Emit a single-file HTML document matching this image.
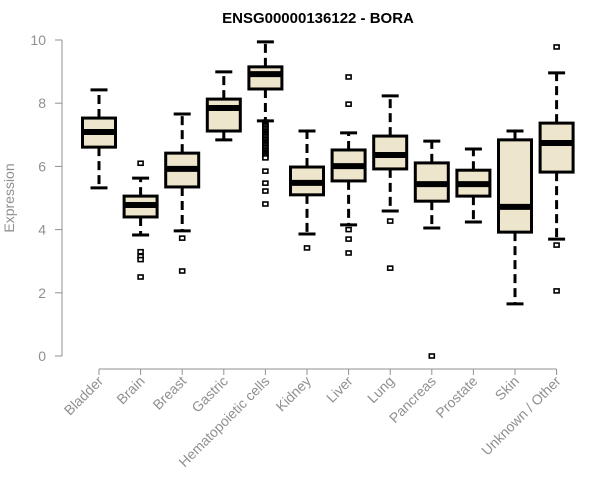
<!DOCTYPE html>
<html><head><meta charset="utf-8"><style>
body{margin:0;background:#fff}
svg{display:block;font-family:"Liberation Sans",sans-serif}
</style></head><body>
<svg id="chart" width="600" height="500" viewBox="0 0 600 500">
<text x="318" y="23" text-anchor="middle" font-weight="bold" font-size="15">ENSG00000136122 - BORA</text>
<text transform="translate(14,198) rotate(-90)" text-anchor="middle" font-size="14" fill="#909090">Expression</text>
<g id="yaxis"></g>
<g id="xaxis"></g>
<g id="boxes"></g>
</svg>
<script>
const categories=["Bladder","Brain","Breast","Gastric","Hematopoietic cells","Kidney","Liver","Lung","Pancreas","Prostate","Skin","Unknown / Other"];
const whiskerLow=[5.32,3.83,3.96,6.84,7.44,3.86,4.15,4.59,4.05,4.24,1.65,3.7];
const q1=[6.61,4.40,5.35,7.12,8.45,5.10,5.54,5.92,4.90,5.06,3.92,5.82];
const medians=[7.09,4.78,5.92,7.85,8.92,5.48,6.01,6.36,5.44,5.44,4.72,6.74];
const q3=[7.53,5.06,6.42,8.13,9.15,5.98,6.52,6.96,6.11,5.88,6.84,7.37];
const whiskerHigh=[8.42,5.63,7.66,8.99,9.94,7.12,7.06,8.23,6.80,6.55,7.12,8.96];
const outliers=[[],[6.1,3.3,3.15,3.05,2.5],[3.73,2.69],[],
[7.4,7.35,7.3,7.25,7.2,7.15,7.1,7.05,7.0,6.95,6.9,6.85,6.8,6.75,6.7,6.65,6.6,6.55,6.5,6.45,6.4,6.35,6.3,6.27,5.85,5.47,5.22,4.81],
[3.42],[8.83,7.97,4.0,3.7,3.26],[4.27,2.78],[0],[],[],[9.78,3.51,2.06]];
const yTicks=[0,2,4,6,8,10];
const NS="http://www.w3.org/2000/svg";
const y=v=>356-v*31.6;
const x=i=>99+i*41.6;
function mk(tag,attrs,parent){const e=document.createElementNS(NS,tag);for(const k in attrs)e.setAttribute(k,attrs[k]);parent.appendChild(e);return e;}
const ya=document.getElementById('yaxis');
mk('line',{x1:62,x2:62,y1:y(0),y2:y(10),stroke:'#909090','stroke-width':1},ya);
yTicks.forEach(t=>{
 const l=mk('line',{x1:55,x2:62,y1:y(t),y2:y(t),stroke:'#909090'},ya);
 
 
 const tx=mk('text',{x:46,y:y(t)+5,'text-anchor':'end','font-size':14,fill:'#909090'},ya);
 tx.textContent=t;
 
 
});
const xa=document.getElementById('xaxis');
mk('line',{x1:x(0),x2:x(categories.length-1),y1:369,y2:369,stroke:'#909090'},xa);
categories.forEach((c,i)=>{
 const l=mk('line',{x1:x(i),x2:x(i),y1:369,y2:375,stroke:'#909090'},xa);
 
 
 const tx=mk('text',{transform:`translate(${x(i)+5},382) rotate(-45)`,'text-anchor':'end','font-size':14,fill:'#909090'},xa);
 tx.textContent=c;
 
 
});
const bx=document.getElementById('boxes');
categories.forEach((c,i)=>{
 const g=mk('g',{},bx);
 
 
 const cx=x(i),hw=16.5,cw=8.5;
 mk('line',{x1:cx,x2:cx,y1:y(q3[i]),y2:y(whiskerHigh[i]),stroke:'#000','stroke-width':3,'stroke-dasharray':'9,5'},g);
 mk('line',{x1:cx,x2:cx,y1:y(q1[i]),y2:y(whiskerLow[i]),stroke:'#000','stroke-width':3,'stroke-dasharray':'9,5'},g);
 mk('line',{x1:cx-cw,x2:cx+cw,y1:y(whiskerHigh[i]),y2:y(whiskerHigh[i]),stroke:'#000','stroke-width':3},g);
 mk('line',{x1:cx-cw,x2:cx+cw,y1:y(whiskerLow[i]),y2:y(whiskerLow[i]),stroke:'#000','stroke-width':3},g);
 mk('rect',{x:cx-hw,y:y(q3[i]),width:2*hw,height:y(q1[i])-y(q3[i]),fill:'#ede6cc',stroke:'#000','stroke-width':3},g);
 mk('line',{x1:cx-hw,x2:cx+hw,y1:y(medians[i]),y2:y(medians[i]),stroke:'#000','stroke-width':6},g);
 outliers[i].forEach(v=>{
  const p=mk('rect',{x:cx-2.5,y:y(v)-2,width:5,height:4,fill:'#fff',stroke:'#000','stroke-width':1.6},g);
  
  
 });
});
</script>
</body></html>
